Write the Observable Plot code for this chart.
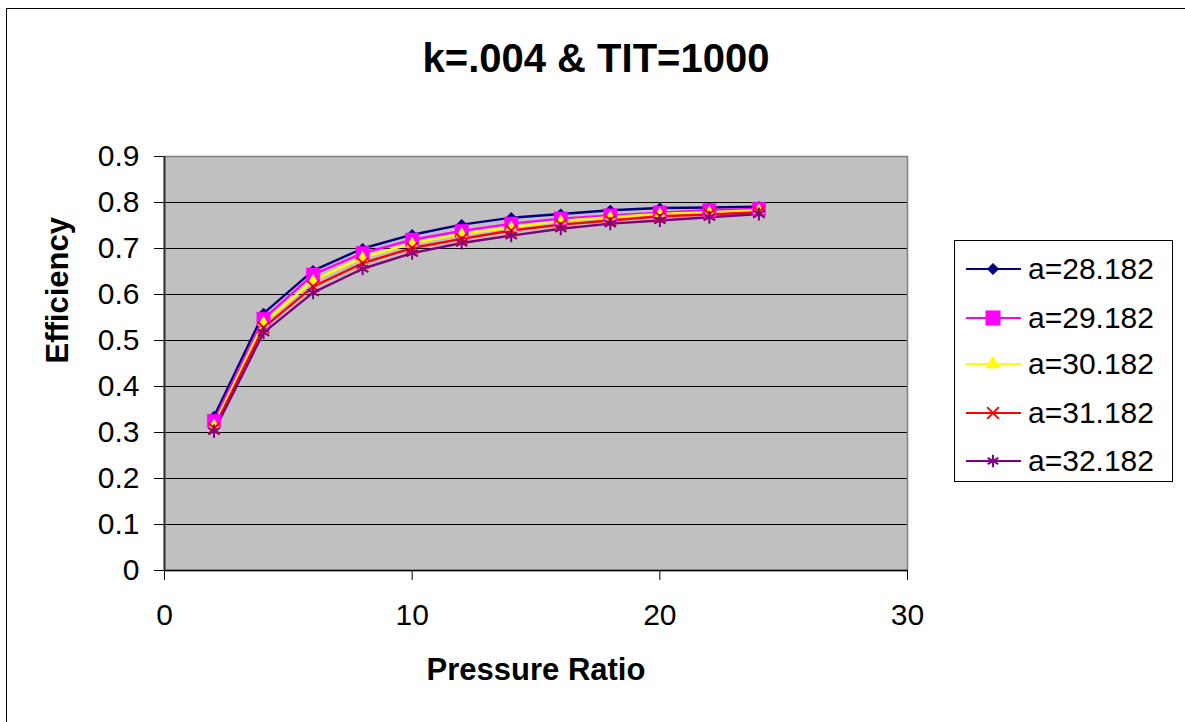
<!DOCTYPE html>
<html>
<head>
<meta charset="utf-8">
<script src="https://cdn.jsdelivr.net/npm/d3@7"></script>
<script src="https://cdn.jsdelivr.net/npm/@observablehq/plot@0.6"></script>
<style>
  html, body { margin: 0; padding: 0; background: #fff; overflow: hidden; }
  #wrap { position: relative; width: 1185px; height: 722px; font-family: "Liberation Sans", Arial, sans-serif; }
  #border { position: absolute; left: 6px; top: 8px; width: 1200px; height: 740px; border: 1px solid #000; box-sizing: border-box; }
  #title { position: absolute; left: 0; top: 38px; width: 1192px; text-align: center; font-size: 40px; line-height: 40px; font-weight: bold; color: #000; }
  #chart { position: absolute; left: 0; top: 100px; }
  #legend { position: absolute; left: 954px; top: 240px; width: 219px; height: 242px; border: 1px solid #000; box-sizing: border-box; background: #fff; }
  .row { position: absolute; left: 0; height: 48px; display: flex; align-items: center; }
  .row span { font-size: 30px; color: #000; }
</style>
</head>
<body>
<div id="wrap">
  <div id="border"></div>
  <div id="title"></div>
  <div id="chart"></div>
  <div id="legend"></div>
</div>
<script>
const titleText = "k=.004 & TIT=1000";
const xLabel = "Pressure Ratio";
const yLabel = "Efficiency";

const pressureRatio = [2, 4, 6, 8, 10, 12, 14, 16, 18, 20, 22, 24];
const seriesNames = ["a=28.182", "a=29.182", "a=30.182", "a=31.182", "a=32.182"];
const a28 = [0.335, 0.559, 0.652, 0.700, 0.730, 0.752, 0.767, 0.775, 0.783, 0.788, 0.789, 0.791];
const a29 = [0.325, 0.547, 0.643, 0.690, 0.719, 0.738, 0.754, 0.765, 0.772, 0.778, 0.783, 0.786];
const a30 = [0.316, 0.539, 0.630, 0.680, 0.711, 0.732, 0.746, 0.760, 0.768, 0.775, 0.779, 0.783];
const a31 = [0.309, 0.528, 0.617, 0.668, 0.701, 0.721, 0.739, 0.752, 0.761, 0.770, 0.774, 0.779];
const a32 = [0.303, 0.517, 0.604, 0.656, 0.690, 0.712, 0.728, 0.743, 0.754, 0.761, 0.768, 0.775];
const seriesValues = [a28, a29, a30, a31, a32];
const seriesColors = ["#000080", "#FF00FF", "#FFFF00", "#FF0000", "#800080"];
const seriesSymbols = ["diamond2", "square", "triangle", "times", "asterisk"];
const seriesFilled = [true, true, true, false, false];
const seriesR = [4.8, 7.6, 4.0, 5.2, 6.2];
const legendR = [5.2, 8.2, 5.2, 5.4, 5.8];

const xTicks = [0, 10, 20, 30];
const yTicks = [0, 0.1, 0.2, 0.3, 0.4, 0.5, 0.6, 0.7, 0.8, 0.9];
const yGrid = [0.1, 0.2, 0.3, 0.4, 0.5, 0.6, 0.7, 0.8];

document.getElementById("title").textContent = titleText;

const series = seriesNames.map((name, i) => ({
  name,
  color: seriesColors[i],
  symbol: seriesSymbols[i],
  filled: seriesFilled[i],
  r: seriesR[i],
  lr: legendR[i],
  rows: pressureRatio.map((x, j) => ({x, y: seriesValues[i][j], series: name}))
}));

const font = "Liberation Sans, Arial, sans-serif";

const marks = [
  Plot.frame({fill: "#C0C0C0", stroke: null}),
  Plot.ruleY(yGrid, {stroke: "#000", strokeWidth: 1.2}),
  Plot.frame({stroke: "#808080", strokeWidth: 1.5}),
  Plot.axisY({ticks: yTicks, tickSize: 10, tickPadding: 15, fontSize: 30, tickFormat: d => String(+d.toFixed(1)), label: null, stroke: "#000"}),
  Plot.axisX({ticks: xTicks, tickSize: 10, tickPadding: 23, fontSize: 30, tickFormat: d => String(d), label: null, stroke: "#000"}),
  Plot.ruleX([0], {stroke: "#333", strokeWidth: 2}),
  Plot.ruleY([0], {stroke: "#000", strokeWidth: 1.5}),
  ...series.map(s => Plot.line(s.rows, {x: "x", y: "y", stroke: s.color, strokeWidth: 2.4})),
  ...series.map(s => Plot.dot(s.rows, {
    x: "x", y: "y", symbol: () => s.symbol, r: s.r,
    fill: s.filled ? s.color : "none",
    stroke: s.color, strokeWidth: s.filled ? 0.5 : 2
  })),
  Plot.text([xLabel], {frameAnchor: "bottom", dy: 100, text: d => d, fontSize: 31, fontWeight: "bold", lineAnchor: "middle", fill: "#000"}),
  Plot.text([yLabel], {frameAnchor: "left", dx: -106, text: d => d, fontSize: 31, fontWeight: "bold", rotate: -90, lineAnchor: "middle", fill: "#000"})
];

const chart = Plot.plot({
  width: 1185,
  height: 622,
  marginLeft: 164,
  marginRight: 278,
  marginTop: 56,
  marginBottom: 152,
  style: {fontFamily: font, background: "transparent", overflow: "visible"},
  x: {domain: [0, 30]},
  y: {domain: [0, 0.9]},
  symbol: {type: "identity"},
  marks
});
document.getElementById("chart").appendChild(chart);

// Legend
const legend = d3.select("#legend");
const symMap = {
  diamond2: d3.symbolDiamond2, square: d3.symbolSquare, triangle: d3.symbolTriangle,
  times: d3.symbolTimes, asterisk: d3.symbolAsterisk
};
const rowCenters = [28, 77, 123, 172, 220];
series.forEach((s, i) => {
  const row = legend.append("div").attr("class", "row").style("top", (rowCenters[i] - 24) + "px");
  const svg = row.append("svg").attr("width", 73).attr("height", 48);
  svg.append("line").attr("x1", 11).attr("x2", 66).attr("y1", 24).attr("y2", 24)
    .attr("stroke", s.color).attr("stroke-width", 2);
  svg.append("path")
    .attr("transform", "translate(38,24)")
    .attr("d", d3.symbol(symMap[s.symbol], Math.PI * s.lr * s.lr)())
    .attr("fill", s.filled ? s.color : "none")
    .attr("stroke", s.color)
    .attr("stroke-width", s.filled ? 0.5 : 2);
  row.append("span").text(s.name);
});
</script>
</body>
</html>
